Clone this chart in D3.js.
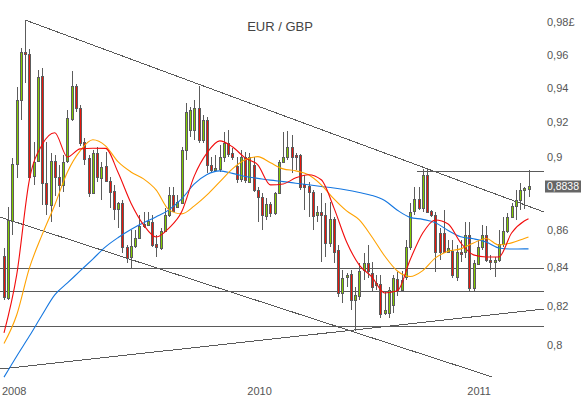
<!DOCTYPE html>
<html>
<head>
<meta charset="utf-8">
<script src="https://cdnjs.cloudflare.com/ajax/libs/d3/7.8.5/d3.min.js"></script>
<style>
  body { margin:0; background:#fff; }
  svg { display:block; font-family:"Liberation Sans", Arial, sans-serif; }
</style>
</head>
<body>
<svg id="chart" width="588" height="397"></svg>
<script>
// weekly candles, EUR/GBP, late Nov 2008 .. Apr 2011
var openP = [0.8462,0.8242,0.8650,0.8962,0.9328,0.9616,0.9604,0.8893,0.8981,0.9474,
  0.8856,0.8740,0.8981,0.8893,0.8847,0.8977,0.9225,0.9416,0.9287,0.9087,
  0.8996,0.8800,0.9024,0.8890,0.8955,0.8871,0.8813,0.8712,0.8745,0.8507,
  0.8453,0.8514,0.8558,0.8617,0.8630,0.8645,0.8523,0.8507,0.8594,0.8681,
  0.8791,0.8721,0.8749,0.9043,0.9158,0.9158,0.9283,0.9101,0.9215,0.8959,
  0.8934,0.8940,0.9005,0.9085,0.9025,0.8953,0.8884,0.9005,0.8865,0.8959,
  0.8818,0.8781,0.8677,0.8742,0.8691,0.8803,0.8977,0.9005,0.9059,0.9015,
  0.9015,0.8852,0.8843,0.8809,0.8677,0.8696,0.8681,0.8528,0.8660,0.8493,
  0.8265,0.8348,0.8365,0.8230,0.8252,0.8382,0.8421,0.8370,0.8308,0.8315,
  0.8161,0.8161,0.8203,0.8338,0.8282,0.8351,0.8510,0.8699,0.8767,0.8718,
  0.8903,0.8703,0.8681,0.8585,0.8585,0.8483,0.8487,0.8351,0.8483,0.8483,
  0.8573,0.8291,0.8421,0.8510,0.8573,0.8439,0.8430,0.8439,0.8523,0.8594,
  0.8672,0.8731,0.8763,0.8818,0.8824];
var highP = [0.8502,0.8727,0.8996,0.9410,0.9641,0.9811,0.9636,0.9091,0.9510,0.9520,
  0.9091,0.9025,0.9014,0.8959,0.9014,0.9273,0.9504,0.9424,0.9303,0.9110,
  0.9015,0.9043,0.9062,0.8977,0.9034,0.8893,0.8847,0.8754,0.8763,0.8519,
  0.8599,0.8599,0.8681,0.8699,0.8699,0.8681,0.8573,0.8609,0.8718,0.8837,
  0.8837,0.8791,0.9062,0.9313,0.9293,0.9332,0.9413,0.9244,0.9234,0.9005,
  0.9015,0.9072,0.9148,0.9158,0.9053,0.9005,0.9043,0.9034,0.9024,0.9005,
  0.8837,0.8800,0.8773,0.8754,0.8809,0.8987,0.9148,0.9154,0.9129,0.9024,
  0.9018,0.8902,0.8861,0.8818,0.8732,0.8800,0.8745,0.8754,0.8672,0.8519,
  0.8386,0.8369,0.8386,0.8299,0.8423,0.8475,0.8519,0.8428,0.8360,0.8360,
  0.8271,0.8299,0.8360,0.8376,0.8382,0.8546,0.8745,0.8837,0.8837,0.8936,
  0.8936,0.8709,0.8699,0.8609,0.8709,0.8546,0.8546,0.8520,0.8546,0.8645,
  0.8645,0.8439,0.8546,0.8627,0.8621,0.8466,0.8457,0.8599,0.8672,0.8691,
  0.8745,0.8818,0.8856,0.8837,0.8930];
var lowP = [0.8230,0.8230,0.8573,0.8884,0.9215,0.9430,0.8884,0.8847,0.8977,0.8736,
  0.8681,0.8645,0.8785,0.8726,0.8807,0.8968,0.9209,0.9264,0.9068,0.8959,
  0.8781,0.8795,0.8865,0.8763,0.8865,0.8718,0.8654,0.8609,0.8475,0.8421,
  0.8395,0.8502,0.8551,0.8609,0.8627,0.8510,0.8456,0.8492,0.8587,0.8672,
  0.8699,0.8718,0.8745,0.8987,0.9119,0.9101,0.9082,0.9082,0.8912,0.8912,
  0.8931,0.8921,0.8977,0.9005,0.8987,0.8856,0.8865,0.8856,0.8856,0.8809,
  0.8645,0.8599,0.8654,0.8672,0.8681,0.8800,0.8968,0.8987,0.8912,0.8931,
  0.8818,0.8708,0.8672,0.8599,0.8645,0.8430,0.8457,0.8510,0.8421,0.8247,
  0.8212,0.8299,0.8178,0.8071,0.8230,0.8334,0.8344,0.8271,0.8282,0.8137,
  0.8152,0.8135,0.8161,0.8251,0.8271,0.8334,0.8493,0.8681,0.8709,0.8699,
  0.8691,0.8672,0.8377,0.8439,0.8475,0.8475,0.8344,0.8330,0.8428,0.8448,
  0.8273,0.8273,0.8412,0.8493,0.8430,0.8386,0.8351,0.8430,0.8510,0.8581,
  0.8664,0.8654,0.8709,0.8712,0.8781];
var closeP = [0.8247,0.8654,0.8964,0.9332,0.9616,0.9604,0.8890,0.8974,0.9470,0.8856,
  0.8740,0.8983,0.8891,0.8847,0.8977,0.9225,0.9416,0.9287,0.9087,0.8992,
  0.8800,0.9024,0.8887,0.8949,0.8871,0.8809,0.8712,0.8745,0.8507,0.8448,
  0.8514,0.8558,0.8621,0.8630,0.8649,0.8519,0.8507,0.8596,0.8681,0.8791,
  0.8703,0.8751,0.9043,0.9264,0.9273,0.9283,0.9101,0.9215,0.8959,0.8931,
  0.8943,0.9005,0.9085,0.9025,0.9005,0.8878,0.9005,0.8875,0.9005,0.8818,
  0.8781,0.8681,0.8742,0.8691,0.8803,0.8977,0.9005,0.9059,0.9005,0.9005,
  0.8837,0.8837,0.8809,0.8677,0.8696,0.8681,0.8528,0.8660,0.8483,0.8265,
  0.8343,0.8360,0.8230,0.8254,0.8382,0.8421,0.8377,0.8299,0.8320,0.8161,
  0.8178,0.8282,0.8343,0.8273,0.8334,0.8510,0.8699,0.8767,0.8718,0.8903,
  0.8699,0.8681,0.8483,0.8483,0.8483,0.8502,0.8360,0.8483,0.8475,0.8573,
  0.8291,0.8421,0.8510,0.8573,0.8439,0.8430,0.8439,0.8523,0.8594,0.8672,
  0.8731,0.8763,0.8818,0.8828,0.8838];

// moving averages, at these candle positions
var maIdx = [0,3,6,9,12,15,18,21,24,27,30,33,36,39,42,45,48,51,54,57,60,63,66,69,72,75,78,81,84,87,90,93,96,99,102,105,108,111,114,117,120,123,124];
var maRed = [0.8061,0.8360,0.8875,0.9072,0.9141,0.9003,0.9049,0.9053,0.9052,0.8914,
  0.8747,0.8627,0.8562,0.8610,0.8698,0.8897,0.9026,0.9095,0.9061,0.8998,
  0.8959,0.8847,0.8852,0.8886,0.8903,0.8875,0.8720,0.8535,0.8412,0.8349,
  0.8266,0.8277,0.8439,0.8583,0.8654,0.8632,0.8530,0.8466,0.8455,0.8455,
  0.8583,0.8648,0.8660];
var maOrange = [0.8007,0.8152,0.8396,0.8573,0.8736,0.8919,0.9038,0.9101,0.9066,0.8975,
  0.8919,0.8880,0.8818,0.8709,0.8687,0.8731,0.8791,0.8863,0.8936,0.8987,
  0.9005,0.8970,0.8936,0.8925,0.8903,0.8847,0.8769,0.8703,0.8654,0.8562,
  0.8460,0.8381,0.8352,0.8383,0.8450,0.8485,0.8498,0.8530,0.8554,0.8519,
  0.8530,0.8554,0.8562];
var maBlue = [0.7840,0.7944,0.8045,0.8152,0.8256,0.8318,0.8381,0.8444,0.8509,0.8559,
  0.8602,0.8638,0.8671,0.8709,0.8769,0.8852,0.8905,0.8925,0.8911,0.8893,
  0.8883,0.8873,0.8865,0.8856,0.8847,0.8838,0.8829,0.8818,0.8804,0.8788,
  0.8760,0.8707,0.8668,0.8657,0.8639,0.8597,0.8563,0.8552,0.8535,0.8503,
  0.8497,0.8498,0.8498];

var yTicks = [0.80,0.82,0.84,0.86,0.90,0.92,0.94,0.96,0.98];
var yearTicks = [0, 58, 110];
var yearLabels = ["2008", "2010", "2011"];

// drawn lines: trend lines [i0, p0, i1, p1] and horizontal levels
var trendLines = [[5.13,0.9811,127.7,0.8697],[-0.95,0.8670,115.3,0.7842],[-0.95,0.7880,127.66,0.8183]];
var levels = [[-0.95,127.66,0.8395],[-0.95,127.66,0.8275],[-0.95,127.66,0.8095],[97.6,127.66,0.8925]];

var svg = d3.select("#chart");

var xScale = d3.scaleLinear().domain([0,124]).range([4,528.5]);
var yScale = d3.scaleLog().domain([0.80,0.98]).range([345,22]);

var lineCol = "#5a5a5a";

var gLines = svg.append("g").attr("shape-rendering","crispEdges");
gLines.selectAll("line.trend")
  .data(trendLines)
  .enter().append("line")
    .attr("class","trend")
    .attr("x1", function(d){ return xScale(d[0]); })
    .attr("y1", function(d){ return yScale(d[1]); })
    .attr("x2", function(d){ return xScale(d[2]); })
    .attr("y2", function(d){ return yScale(d[3]); })
    .attr("stroke", lineCol)
    .attr("stroke-width", 1);

gLines.selectAll("line.level")
  .data(levels)
  .enter().append("line")
    .attr("class","level")
    .attr("x1", function(d){ return xScale(d[0]); })
    .attr("x2", function(d){ return xScale(d[1]); })
    .attr("y1", function(d){ return Math.round(yScale(d[2])) + 0.5; })
    .attr("y2", function(d){ return Math.round(yScale(d[2])) + 0.5; })
    .attr("stroke", lineCol)
    .attr("stroke-width", 1);

// candles
var candles = openP.map(function(o, i){
  return {i:i, o:o, h:highP[i], l:lowP[i], c:closeP[i]};
});

var gC = svg.append("g").attr("shape-rendering","crispEdges");
var cg = gC.selectAll("g.candle")
  .data(candles)
  .enter().append("g")
    .attr("class","candle");

cg.append("line")
  .attr("x1", function(d){ return Math.round(xScale(d.i)) + 0.5; })
  .attr("x2", function(d){ return Math.round(xScale(d.i)) + 0.5; })
  .attr("y1", function(d){ return yScale(d.h); })
  .attr("y2", function(d){ return yScale(d.l); })
  .attr("stroke", "#5c5c5c")
  .attr("stroke-width", 1);

cg.append("rect")
  .attr("x", function(d){ return Math.round(xScale(d.i)) - 0.5; })
  .attr("y", function(d){ return Math.round(Math.min(yScale(d.o), yScale(d.c))) + 0.5; })
  .attr("width", 2)
  .attr("height", function(d){ return Math.max(1, Math.round(Math.abs(yScale(d.o) - yScale(d.c)))); })
  .attr("fill", function(d){ return d.c >= d.o ? "#82cc00" : "#e8160c"; })
  .attr("stroke", "#5c5c5c")
  .attr("stroke-width", 1);

// moving averages
function maLine(vals){
  return d3.line()
    .x(function(d, k){ return xScale(maIdx[k]); })
    .y(function(d){ return yScale(d); })
    .curve(d3.curveMonotoneX)(vals);
}
[[maBlue,"#1577e0"],[maOrange,"#ffa200"],[maRed,"#f20c0c"]].forEach(function(m){
  svg.append("path")
    .attr("d", maLine(m[0]))
    .attr("fill","none")
    .attr("stroke", m[1])
    .attr("stroke-width", 1.1);
});

// y labels (right side)
svg.append("g").selectAll("text")
  .data(yTicks)
  .enter().append("text")
    .attr("x", 547)
    .attr("y", function(d){ return yScale(d); })
    .attr("dy", "0.35em")
    .attr("font-size", 11)
    .attr("fill", "#555")
    .text(function(d, k){
      var s = String(+d.toFixed(2)).replace(".", ",");
      return k == yTicks.length - 1 ? s + "\u00a3" : s;
    });

// year labels
svg.append("g").selectAll("text")
  .data(yearTicks)
  .enter().append("text")
    .attr("x", function(d){ return xScale(d) - 2; })
    .attr("y", 395)
    .attr("font-size", 11)
    .attr("fill", "#555")
    .text(function(d, k){ return yearLabels[k]; });

// last price tag
var last = closeP[closeP.length - 1];
svg.append("rect")
  .attr("x", 545).attr("y", Math.round(yScale(last)) - 5.5)
  .attr("width", 36).attr("height", 12)
  .attr("fill", "#666");
svg.append("text")
  .attr("x", 563).attr("y", yScale(last))
  .attr("dy", "0.36em")
  .attr("text-anchor","middle")
  .attr("font-size", 10.5)
  .attr("fill", "#fff")
  .text(String(last).replace(".", ","));

svg.append("text")
  .attr("x", 280).attr("y", 31)
  .attr("text-anchor","middle")
  .attr("font-size", 13)
  .attr("fill", "#444")
  .text("EUR / GBP");
</script>
</body>
</html>
